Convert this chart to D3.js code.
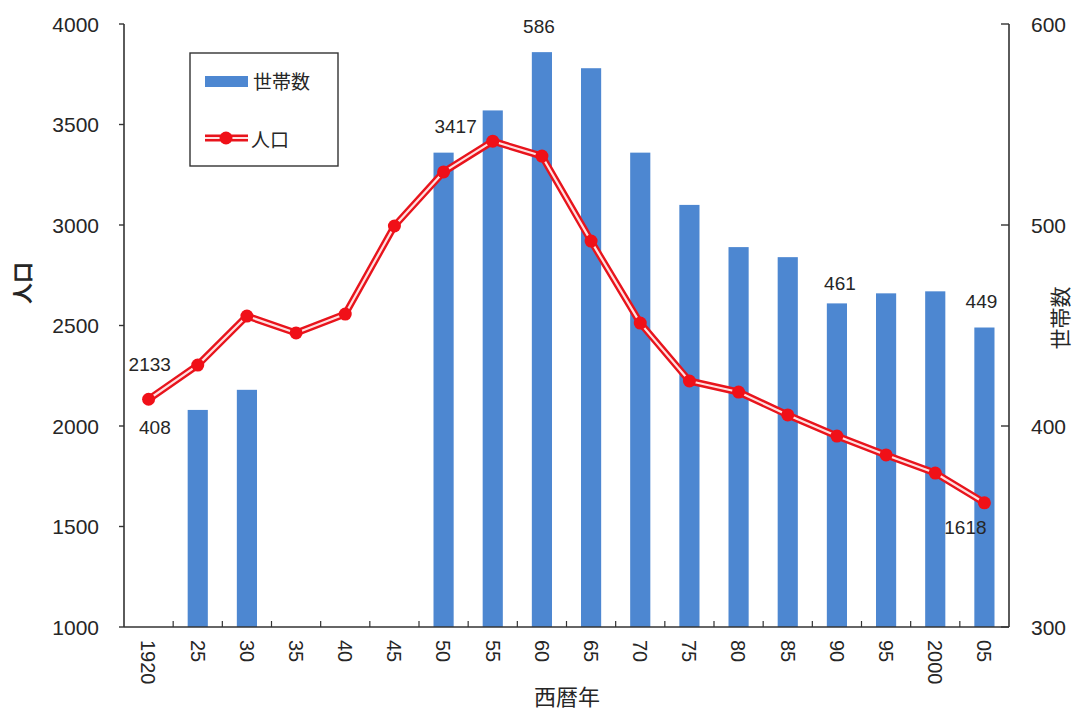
<!DOCTYPE html>
<html>
<head>
<meta charset="utf-8">
<script src="https://cdn.jsdelivr.net/npm/d3@7"></script>
<style>
  html, body { margin: 0; padding: 0; background: #fff; }
  svg { display: block; }
  text { font-family: "Liberation Sans", Arial, sans-serif; fill: #262626; }
  .jp { font-family: "Noto Sans CJK JP", sans-serif; }
</style>
</head>
<body>
<svg id="chart" width="1080" height="715"></svg>
<script>
// Census years, household counts (right axis) and population (left axis)
const years = [1920, 1925, 1930, 1935, 1940, 1945, 1950, 1955, 1960, 1965, 1970, 1975, 1980, 1985, 1990, 1995, 2000, 2005];
const yearLabels = ["1920", "25", "30", "35", "40", "45", "50", "55", "60", "65", "70", "75", "80", "85", "90", "95", "2000", "05"];
const households = [null, 408, 418, null, null, null, 536, 557, 586, 578, 536, 510, 489, 484, 461, 466, 467, 449];
const population = [2133, 2303, 2547, 2463, 2557, 2995, 3264, 3417, 3343, 2920, 2512, 2224, 2169, 2055, 1950, 1856, 1766, 1618];
const leftTicks = [1000, 1500, 2000, 2500, 3000, 3500, 4000];
const rightTicks = [300, 400, 500, 600];
// values annotated on the chart: year, value
const popLabels = [[1920, 2133], [1955, 3417], [2005, 1618]];
const hhLabels = [[1925, 408], [1960, 586], [1990, 461], [2005, 449]];

const svg = d3.select("#chart");
const plotL = 124, plotR = 1009, plotT = 24, plotB = 627;

const x = d3.scaleBand().domain(years).range([plotL, plotR]);
const yL = d3.scaleLinear().domain([1000, 4000]).range([plotB, plotT]);
const yR = d3.scaleLinear().domain([300, 600]).range([plotB, plotT]);
const cx = yr => x(yr) + x.bandwidth() / 2;

// bars
const barW = x.bandwidth() * 0.41;
svg.append("g").selectAll("rect")
  .data(years.map((yr, i) => ({ yr, v: households[i] })).filter(d => d.v != null))
  .join("rect")
  .attr("x", d => cx(d.yr) - barW / 2)
  .attr("y", d => yR(d.v))
  .attr("width", barW)
  .attr("height", d => yR(300) - yR(d.v))
  .attr("fill", "#4d87d1");

// axis lines
const axisColor = "#333";
const g = svg.append("g").attr("stroke", axisColor).attr("stroke-width", 1.6).attr("fill", "none");
g.append("line").attr("x1", plotL).attr("x2", plotL).attr("y1", plotT).attr("y2", plotB);
g.append("line").attr("x1", plotR).attr("x2", plotR).attr("y1", plotT).attr("y2", plotB);
g.append("line").attr("x1", plotL).attr("x2", plotR).attr("y1", plotB).attr("y2", plotB);

// left ticks and labels
leftTicks.forEach(t => {
  svg.append("line").attr("x1", plotL - 5).attr("x2", plotL).attr("y1", yL(t)).attr("y2", yL(t))
    .attr("stroke", axisColor).attr("stroke-width", 1.4);
  svg.append("text").attr("x", 99).attr("y", yL(t)).attr("dy", "0.36em")
    .attr("text-anchor", "end").attr("font-size", 21).text(t);
});
// right ticks and labels
rightTicks.forEach(t => {
  svg.append("line").attr("x1", plotR - 8).attr("x2", plotR).attr("y1", yR(t)).attr("y2", yR(t))
    .attr("stroke", axisColor).attr("stroke-width", 1.4);
  svg.append("text").attr("x", 1031).attr("y", yR(t)).attr("dy", "0.36em")
    .attr("text-anchor", "start").attr("font-size", 21).text(t);
});
// category boundary ticks on the x axis
x.domain().slice(1).forEach(yr => {
  svg.append("line").attr("x1", x(yr)).attr("x2", x(yr)).attr("y1", plotB - 6).attr("y2", plotB)
    .attr("stroke", axisColor).attr("stroke-width", 1.2);
});
// x labels, rotated
years.forEach((yr, i) => {
  svg.append("text")
    .attr("transform", `translate(${cx(yr)},640) rotate(90)`)
    .attr("dy", "0.36em").attr("text-anchor", "start").attr("font-size", 20)
    .text(yearLabels[i]);
});

// axis titles
svg.append("text").attr("class", "jp").attr("transform", "translate(567,697)")
  .attr("text-anchor", "middle").attr("dy", "0.36em").attr("font-size", 22).text("西暦年");
svg.append("text").attr("class", "jp").attr("transform", "translate(22,283) rotate(-90)")
  .attr("text-anchor", "middle").attr("dy", "0.36em").attr("font-size", 21)
  .attr("font-weight", "bold").text("人口");
svg.append("text").attr("class", "jp").attr("transform", "translate(1060,318) rotate(-90)")
  .attr("text-anchor", "middle").attr("dy", "0.36em").attr("font-size", 21).text("世帯数");

// population line: red outline with a pale core
const pts = years.map((yr, i) => [cx(yr), yL(population[i])]);
const line = d3.line();
svg.append("path").attr("d", line(pts)).attr("fill", "none")
  .attr("stroke", "#e8141c").attr("stroke-width", 7).attr("stroke-linejoin", "round");
svg.append("path").attr("d", line(pts)).attr("fill", "none")
  .attr("stroke", "#ffe0e0").attr("stroke-width", 2.2).attr("stroke-linejoin", "round");
svg.append("g").selectAll("circle").data(pts).join("circle")
  .attr("cx", d => d[0]).attr("cy", d => d[1]).attr("r", 6.5).attr("fill", "#f01018");

// value labels
const labelOffsets = {
  "p1920": [-20, -35, "start"], "p1955": [-16, -15, "end"], "p2005": [-19, 24, "middle"],
  "h1925": [-27, 17, "end"], "h1960": [-3, -26, "middle"], "h1990": [3, -20, "middle"], "h2005": [-3, -26, "middle"]
};
popLabels.forEach(([yr, v]) => {
  const o = labelOffsets["p" + yr];
  svg.append("text").attr("x", cx(yr) + o[0]).attr("y", yL(v) + o[1])
    .attr("dy", "0.36em").attr("text-anchor", o[2]).attr("font-size", 19).text(v);
});
hhLabels.forEach(([yr, v]) => {
  const o = labelOffsets["h" + yr];
  svg.append("text").attr("x", cx(yr) + o[0]).attr("y", yR(v) + o[1])
    .attr("dy", "0.36em").attr("text-anchor", o[2]).attr("font-size", 19).text(v);
});

// legend
const lg = svg.append("g");
lg.append("rect").attr("x", 190).attr("y", 53).attr("width", 148).attr("height", 113)
  .attr("fill", "#fff").attr("stroke", "#333").attr("stroke-width", 1.4);
lg.append("rect").attr("x", 205).attr("y", 76).attr("width", 43).attr("height", 11).attr("fill", "#4d87d1");
lg.append("text").attr("class", "jp").attr("x", 253).attr("y", 82).attr("dy", "0.36em")
  .attr("font-size", 19).text("世帯数");
lg.append("line").attr("x1", 205).attr("x2", 248).attr("y1", 138).attr("y2", 138)
  .attr("stroke", "#e8141c").attr("stroke-width", 7);
lg.append("line").attr("x1", 205).attr("x2", 248).attr("y1", 138).attr("y2", 138)
  .attr("stroke", "#ffe0e0").attr("stroke-width", 2.2);
lg.append("circle").attr("cx", 226).attr("cy", 138).attr("r", 6.5).attr("fill", "#f01018");
lg.append("text").attr("class", "jp").attr("x", 251).attr("y", 140).attr("dy", "0.36em")
  .attr("font-size", 19).text("人口");
</script>
</body>
</html>
